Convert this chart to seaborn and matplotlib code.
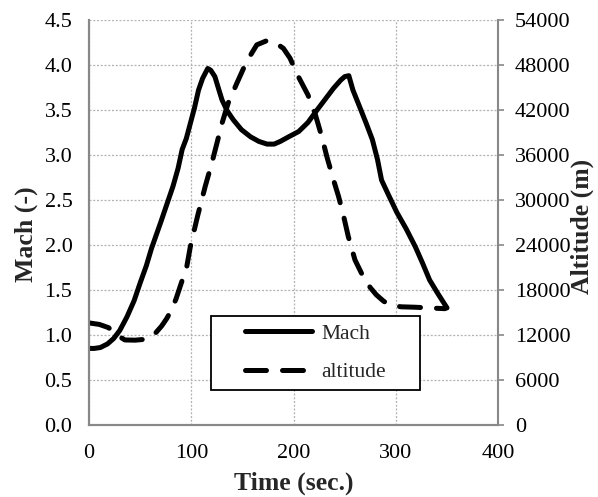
import matplotlib
matplotlib.use("Agg")
import matplotlib.pyplot as plt
import seaborn as sns
import pandas as pd
from matplotlib.lines import Line2D
from matplotlib.patches import Rectangle

# ---- data ----
mach_time = [0, 5, 11, 18, 24, 30, 37, 44, 50, 56, 61, 70, 82, 87, 91, 95, 99, 103, 107, 111,
             116, 119, 123, 127, 130, 135, 141, 149, 158, 166, 174, 181, 187, 195, 205, 214,
             223, 231, 239, 246, 250, 254, 258, 264, 271, 277, 282, 286, 293, 301, 310, 319,
             326, 333, 341, 350]
mach_values = [0.85, 0.85, 0.86, 0.90, 0.96, 1.05, 1.20, 1.38, 1.58, 1.77, 1.96, 2.25, 2.65,
               2.85, 3.06, 3.18, 3.35, 3.52, 3.72, 3.85, 3.96, 3.94, 3.87, 3.72, 3.61, 3.49,
               3.39, 3.28, 3.20, 3.15, 3.12, 3.12, 3.15, 3.20, 3.26, 3.36, 3.50, 3.62, 3.74,
               3.83, 3.87, 3.88, 3.72, 3.55, 3.35, 3.17, 2.95, 2.72, 2.55, 2.36, 2.18, 1.98,
               1.80, 1.61, 1.46, 1.30]
alt_time = [0, 10, 19, 27, 35, 45, 56, 64, 71, 76, 81, 85, 89, 95.5, 99, 106, 113.5, 120, 125,
            130, 136, 144.5, 154, 164, 174, 182, 190, 196.5, 204, 209, 214, 221, 227.5, 232.5,
            239, 244, 249, 253.5, 260, 268, 275, 281, 288, 294, 305, 319, 338, 348]
alt_values = [13600, 13400, 12970, 12000, 11330, 11300, 11430, 12100, 13200, 14200, 15470,
              16800, 18440, 21100, 23770, 27800, 31780, 34900, 37560, 40230, 42900, 45560,
              48440, 50670, 51240, 50970, 50200, 48890, 46600, 45300, 44000, 41500, 38440,
              35770, 32670, 30440, 27770, 25100, 22000, 19770, 18300, 17330, 16500, 16000,
              15750, 15690, 15560, 15500]
x_ticks = [0, 100, 200, 300, 400]
mach_ticks = [0.0, 0.5, 1.0, 1.5, 2.0, 2.5, 3.0, 3.5, 4.0, 4.5]
alt_ticks = [0, 6000, 12000, 18000, 24000, 30000, 36000, 42000, 48000, 54000]
legend_labels = ["Mach", "altitude"]

df_mach = pd.DataFrame({"t": mach_time, "v": mach_values})
df_alt = pd.DataFrame({"t": alt_time, "v": alt_values})

sns.set_style("white")
plt.rcParams["font.family"] = ["Liberation Serif", "DejaVu Serif"]

fig = plt.figure(figsize=(5.98, 4.97), dpi=100)
ax = fig.add_axes([0.149, 0.145, 0.684, 0.815])
ax2 = ax.twinx()

lw = 3.6
dash = (0, (4.2, 3.2))
sns.lineplot(data=df_mach, x="t", y="v", ax=ax, color="black", linewidth=lw,
             sort=False, estimator=None, solid_capstyle="round", solid_joinstyle="round")
sns.lineplot(data=df_alt, x="t", y="v", ax=ax2, color="black", linewidth=lw,
             sort=False, estimator=None)
ax2.lines[0].set_linestyle(dash)
ax2.lines[0].set_dash_capstyle("round")

ax.set_xlim(0, 400)
ax.set_ylim(0, 4.5)
ax2.set_ylim(0, 54000)
ax.set_xticks(x_ticks)
ax.set_yticks(mach_ticks)
ax.set_yticklabels([f"{v:.1f}" for v in mach_ticks])
ax2.set_yticks(alt_ticks)
ax2.set_yticklabels([str(v) for v in alt_ticks])

grid_kw = dict(color="#b3b3b3", linestyle=(0, (1.6, 1.4)), linewidth=0.9)
ax.grid(True, axis="both", **grid_kw)
ax.set_axisbelow(True)

fs = 16
ax.tick_params(axis="y", length=0, pad=12, labelsize=fs, colors="black")
ax.tick_params(axis="x", length=0, pad=14, labelsize=fs, colors="black")
ax2.tick_params(axis="y", length=4, width=1.2, color="#888888", pad=8, labelsize=fs,
                labelcolor="black")

for a in (ax, ax2):
    a.spines["top"].set_visible(False)
    for s in ("left", "right", "bottom"):
        a.spines[s].set_color("#888888")
        a.spines[s].set_linewidth(1.5)
ax.spines["right"].set_visible(False)

lab_fs = 18.5
ax.set_xlabel("Time (sec.)", fontsize=lab_fs, fontweight="bold", labelpad=6)
ax.set_ylabel("Mach (-)", fontsize=lab_fs, fontweight="bold")
ax2.set_ylabel("Altitude (m)", fontsize=lab_fs, fontweight="bold", rotation=90)
ax.yaxis.set_label_coords(-0.125, 0.472)
ax2.yaxis.set_label_coords(1.178, 0.489)

# legend box
box = Rectangle((0.298, 0.086), 0.512, 0.183, transform=ax2.transAxes, facecolor="white",
                edgecolor="black", linewidth=1.3, zorder=4)
ax2.add_patch(box)
handles = [Line2D([], [], color="black", linewidth=lw, solid_capstyle="round"),
           Line2D([], [], color="black", linewidth=lw, linestyle=dash, dash_capstyle="round")]
leg = ax2.legend(handles, legend_labels, loc="center", bbox_to_anchor=(0.554, 0.1775),
                 fontsize=15.5, frameon=False, handlelength=3.1, handletextpad=0.46,
                 labelspacing=0.85, borderpad=0.0, borderaxespad=0)
leg.set_zorder(5)

fig.savefig("out.png", dpi=100)
